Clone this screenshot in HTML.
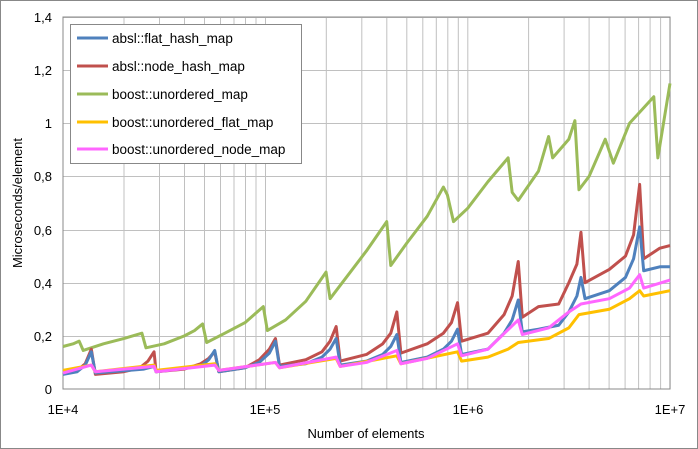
<!DOCTYPE html>
<html><head><meta charset="utf-8"><style>
html,body{margin:0;padding:0;background:#fff;}
svg{display:block;font-family:"Liberation Sans",sans-serif;}
</style></head><body>
<svg width="698" height="449" viewBox="0 0 698 449">
<rect x="0.5" y="0.5" width="697" height="448" fill="#fff" stroke="#888"/>
<g stroke="#c0c0c0" stroke-width="1">
<line x1="63" y1="17.5" x2="670" y2="17.5"/><line x1="63" y1="70.5" x2="670" y2="70.5"/><line x1="63" y1="123.5" x2="670" y2="123.5"/><line x1="63" y1="176.5" x2="670" y2="176.5"/><line x1="63" y1="230.5" x2="670" y2="230.5"/><line x1="63" y1="283.5" x2="670" y2="283.5"/><line x1="63" y1="336.5" x2="670" y2="336.5"/>
<g id="dec">
<line x1="124" y1="17" x2="124" y2="389"/><line x1="159.5" y1="17" x2="159.5" y2="389"/><line x1="184.5" y1="17" x2="184.5" y2="389"/><line x1="204.5" y1="17" x2="204.5" y2="389"/><line x1="220.5" y1="17" x2="220.5" y2="389"/><line x1="234" y1="17" x2="234" y2="389"/><line x1="245.5" y1="17" x2="245.5" y2="389"/><line x1="256" y1="17" x2="256" y2="389"/><line x1="265.5" y1="17" x2="265.5" y2="389"/>
</g>
<use href="#dec" x="202.3"/><use href="#dec" x="404.6"/>
</g>
<rect x="63" y="17" width="607" height="372" fill="none" stroke="#888"/>
<g fill="#000" font-size="13" text-anchor="end">
<text x="52" y="22">1,4</text><text x="52" y="75">1,2</text><text x="52" y="128">1</text><text x="52" y="181">0,8</text><text x="52" y="235">0,6</text><text x="52" y="288">0,4</text><text x="52" y="341">0,2</text><text x="52" y="394">0</text>
</g>
<g fill="#000" font-size="13" text-anchor="middle">
<text x="63" y="414">1E+4</text><text x="265" y="414">1E+5</text><text x="468" y="414">1E+6</text><text x="670" y="414">1E+7</text>
<text x="366" y="438">Number of elements</text>
<text transform="translate(22,203) rotate(-90)">Microseconds/element</text>
</g>
<g transform="translate(63,389) scale(202.33,-265.7)" fill="none" stroke-width="3" stroke-linejoin="round">
<polyline vector-effect="non-scaling-stroke" stroke="#9bbb59" points="0,.16 .05,.17 .08,.18 .1,.145 .2,.17 .3,.19 .39,.21 .41,.155 .5,.17 .6,.2 .65,.22 .69,.245 .71,.175 .8,.21 .9,.25 .99,.31 1.01,.22 1.1,.26 1.2,.33 1.3,.44 1.32,.34 1.4,.42 1.5,.52 1.6,.63 1.62,.465 1.7,.55 1.8,.65 1.88,.76 1.9,.73 1.93,.63 2.0,.68 2.1,.78 2.2,.87 2.22,.74 2.25,.71 2.35,.82 2.4,.95 2.42,.87 2.5,.94 2.53,1.01 2.55,.75 2.6,.8 2.68,.94 2.72,.85 2.8,1.0 2.92,1.1 2.94,.87 3,1.15"/>
<polyline vector-effect="non-scaling-stroke" stroke="#c0504d" points="0,.06 .07,.07 .11,.095 .14,.15 .16,.055 .3,.065 .38,.08 .42,.105 .45,.14 .46,.065 .6,.075 .68,.095 .72,.115 .75,.14 .77,.065 .9,.08 .97,.11 1.02,.15 1.05,.19 1.07,.09 1.2,.11 1.28,.14 1.32,.18 1.35,.235 1.37,.105 1.5,.13 1.58,.17 1.62,.21 1.65,.29 1.67,.135 1.8,.17 1.88,.21 1.92,.25 1.95,.325 1.97,.18 2.1,.21 2.18,.28 2.22,.35 2.25,.48 2.27,.27 2.35,.31 2.45,.32 2.5,.4 2.54,.47 2.56,.59 2.58,.40 2.7,.45 2.78,.5 2.82,.58 2.85,.77 2.87,.49 2.95,.53 3,.54"/>
<polyline vector-effect="non-scaling-stroke" stroke="#4f81bd" points="0,.055 .07,.065 .11,.09 .14,.14 .16,.06 .4,.075 .45,.085 .46,.065 .68,.085 .72,.11 .75,.145 .77,.065 .9,.08 .97,.1 1.02,.135 1.05,.18 1.07,.085 1.2,.095 1.28,.12 1.32,.15 1.35,.19 1.37,.09 1.5,.105 1.58,.13 1.62,.16 1.65,.205 1.67,.1 1.8,.12 1.88,.15 1.92,.18 1.95,.225 1.97,.13 2.1,.15 2.18,.21 2.22,.26 2.25,.335 2.27,.215 2.35,.225 2.45,.24 2.5,.29 2.54,.35 2.56,.42 2.58,.34 2.7,.37 2.78,.42 2.82,.49 2.85,.61 2.87,.445 2.95,.46 3,.46"/>
<polyline vector-effect="non-scaling-stroke" stroke="#ffc000" points="0,.07 .14,.09 .16,.065 .45,.09 .46,.07 .75,.095 .77,.07 1.05,.1 1.07,.08 1.35,.115 1.37,.085 1.65,.125 1.67,.095 1.95,.14 1.97,.105 2.1,.12 2.2,.15 2.25,.175 2.4,.19 2.5,.23 2.55,.28 2.7,.3 2.8,.34 2.85,.37 2.87,.35 3,.37"/>
<polyline vector-effect="non-scaling-stroke" stroke="#ff66ff" points="0,.06 .14,.09 .16,.065 .45,.085 .46,.065 .75,.09 .77,.07 1.05,.1 1.07,.08 1.35,.12 1.37,.085 1.5,.1 1.65,.145 1.67,.095 1.8,.115 1.95,.17 1.97,.125 2.1,.15 2.25,.26 2.27,.205 2.4,.23 2.5,.29 2.56,.32 2.7,.34 2.8,.38 2.85,.43 2.87,.38 3,.41"/>
</g>
<rect x="70.5" y="24.5" width="231" height="139" fill="#fff" stroke="#888"/>
<g stroke-width="3">
<line x1="77" y1="38" x2="108" y2="38" stroke="#4f81bd"/>
<line x1="77" y1="66" x2="108" y2="66" stroke="#c0504d"/>
<line x1="77" y1="94" x2="108" y2="94" stroke="#9bbb59"/>
<line x1="77" y1="122" x2="108" y2="122" stroke="#ffc000"/>
<line x1="77" y1="149" x2="108" y2="149" stroke="#ff66ff"/>
</g>
<g fill="#000" font-size="13.5">
<text x="112" y="43">absl::flat_hash_map</text>
<text x="112" y="71">absl::node_hash_map</text>
<text x="112" y="99">boost::unordered_map</text>
<text x="112" y="127">boost::unordered_flat_map</text>
<text x="112" y="154">boost::unordered_node_map</text>
</g>
</svg>
</body></html>
